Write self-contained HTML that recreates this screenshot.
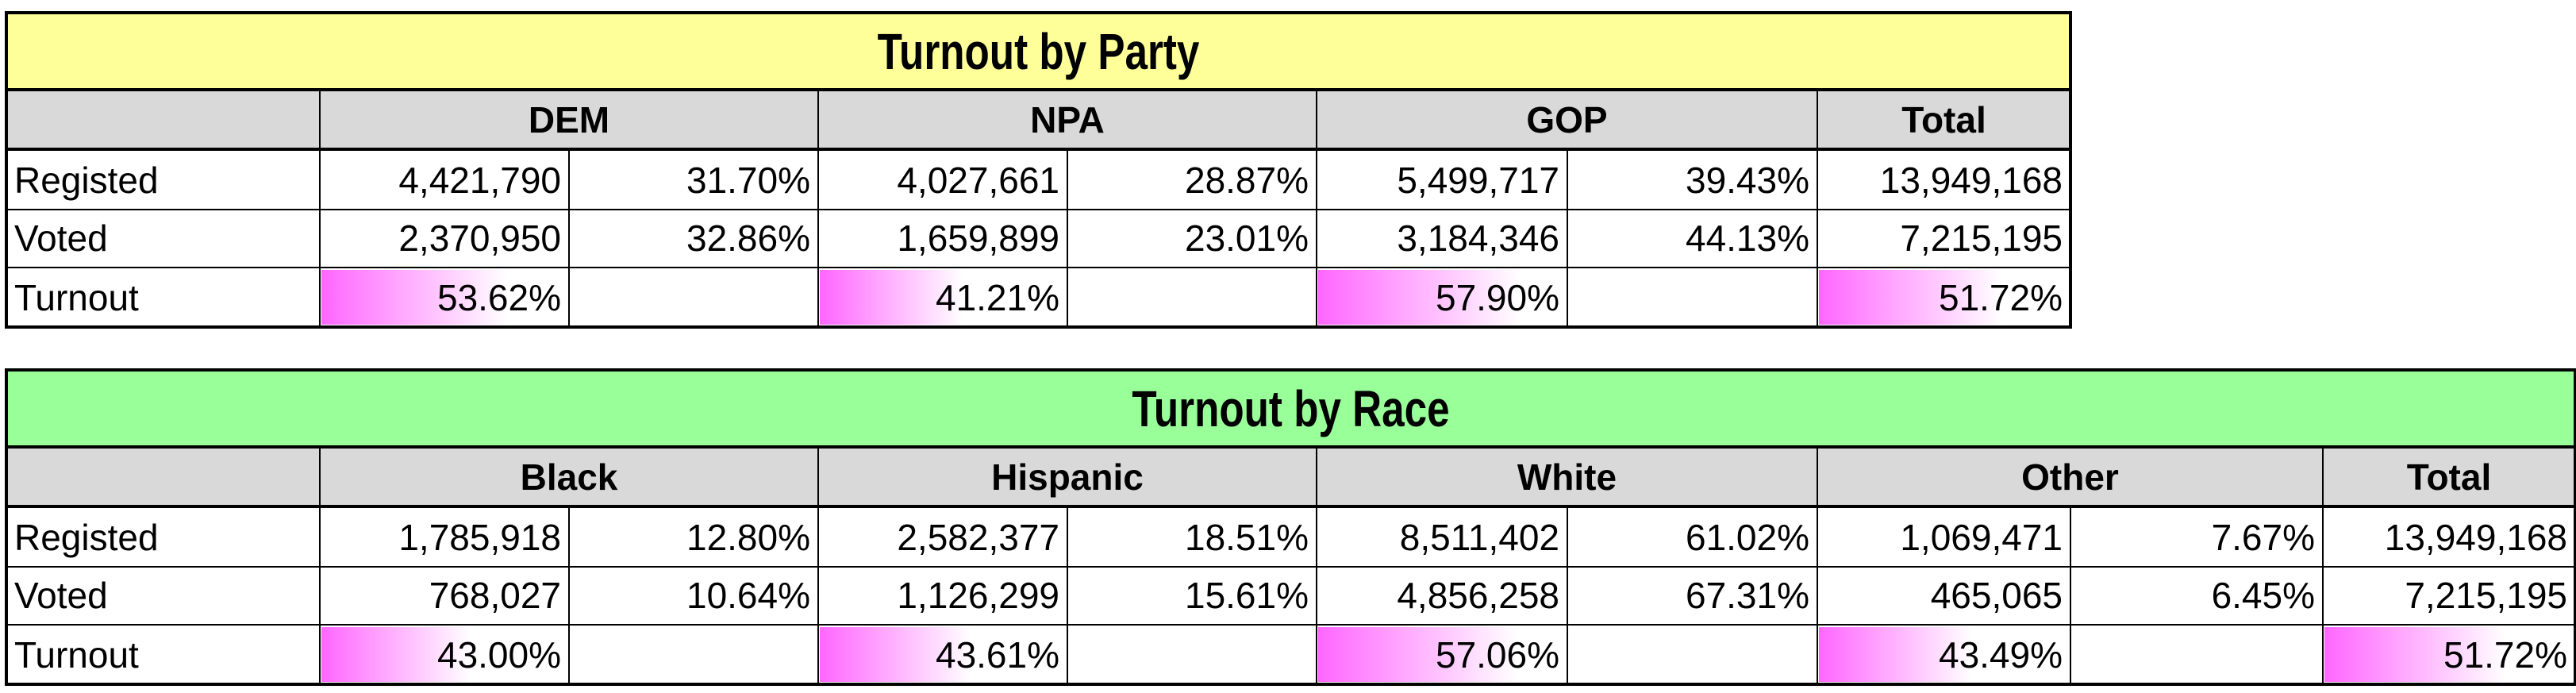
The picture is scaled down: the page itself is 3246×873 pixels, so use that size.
<!DOCTYPE html>
<html><head><meta charset="utf-8">
<style>
html,body{margin:0;padding:0;background:#fff;}
#root{position:relative;width:3246px;height:873px;overflow:hidden;font-family:"Liberation Sans",sans-serif;}
.c{position:absolute;box-sizing:border-box;white-space:nowrap;color:#000;}
.t{position:absolute;bottom:14px;font-size:46px;line-height:46px;}
.ln{position:absolute;background:#000;}
</style></head>
<body>
<div id="root"></div>
<script>
const colX=[8,403,717,1031,1345,1659,1975,2290,2609,2927,3245];
const partyGroups=["DEM","NPA","GOP"];
const partyReg=["4,421,790","4,027,661","5,499,717"];
const partyRegPct=["31.70%","28.87%","39.43%"];
const partyVot=["2,370,950","1,659,899","3,184,346"];
const partyVotPct=["32.86%","23.01%","44.13%"];
const partyTurnout=[53.62,41.21,57.90];
const partyTotals=["13,949,168","7,215,195"];
const partyTotalTurnout=51.72;
const raceGroups=["Black","Hispanic","White","Other"];
const raceReg=["1,785,918","2,582,377","8,511,402","1,069,471"];
const raceRegPct=["12.80%","18.51%","61.02%","7.67%"];
const raceVot=["768,027","1,126,299","4,856,258","465,065"];
const raceVotPct=["10.64%","15.61%","67.31%","6.45%"];
const raceTurnout=[43.00,43.61,57.06,43.49];
const raceTotals=["13,949,168","7,215,195"];
const raceTotalTurnout=51.72;
const barMax=70.9;

const root=document.getElementById('root');
function box(x,y,w,h,bg,name){
  const d=document.createElement('div');d.className='c';
  d.style.left=x+'px';d.style.top=y+'px';d.style.width=w+'px';d.style.height=h+'px';
  if(bg)d.style.background=bg;
  
  
  root.appendChild(d);return d;
}
function txt(parent,s,align,opts){
  const t=document.createElement('div');t.className='t';t.textContent=s;
  if(align==='right'){t.style.right='10px';}
  else if(align==='left'){t.style.left='10px';}
  else{t.style.left='0';t.style.right='0';t.style.textAlign='center';}
  if(opts&&opts.bold)t.style.fontWeight='bold';
  parent.appendChild(t);return t;
}
function line(x,y,w,h,name){
  const d=document.createElement('div');d.className='ln';
  d.style.left=x+'px';d.style.top=y+'px';d.style.width=w+'px';d.style.height=h+'px';
  
  
  root.appendChild(d);
}
function bar(cell,w,v){
  const b=document.createElement('div');
  const frac=Math.min(v/barMax,1);
  b.style.cssText='position:absolute;left:2px;top:3px;bottom:3px;background:linear-gradient(to right,#ff66ff,#ffffff);width:'+((w-4)*frac)+'px;';
  
  
  cell.appendChild(b);
}
function table(top,title,titleBg,groups,reg,regPct,vot,votPct,turn,totals,totTurn,prefix){
  const n=groups.length;
  const right=colX[1+2*n+1];
  const yT=top, yH=top+97, yR1=top+172, yR2=top+248, yR3=top+321, yB=top+396;
  const tc=box(colX[0],yT,right-colX[0],yH-yT,titleBg,prefix+'-title');
  const tt=txt(tc,title,'center',{bold:true});
  tt.style.fontSize='64px';tt.style.lineHeight='64px';tt.style.bottom='16px';
  tt.style.transform='scaleX(0.8)';
  box(colX[0],yH,right-colX[0],yR1-yH,'#d9d9d9',prefix+'-header-row');
  for(let i=0;i<n;i++){
    const x=colX[1+2*i];
    const h=box(x,yH,colX[3+2*i]-x,yR1-yH,null,prefix+'-header-'+groups[i].toLowerCase());
    txt(h,groups[i],'center',{bold:true});
  }
  const tx=colX[1+2*n];
  const th=box(tx,yH,right-tx,yR1-yH,null,prefix+'-header-total');
  txt(th,'Total','center',{bold:true});
  const rows=[['Registed',yR1,yR2,reg,regPct,totals[0]],['Voted',yR2,yR3,vot,votPct,totals[1]]];
  rows.forEach(r=>{
    const lab=box(colX[0],r[1],colX[1]-colX[0],r[2]-r[1],null,prefix+'-row-label-'+r[0].toLowerCase());
    txt(lab,r[0],'left');
    for(let i=0;i<n;i++){
      const a=box(colX[1+2*i],r[1],colX[2+2*i]-colX[1+2*i],r[2]-r[1],null,prefix+'-'+r[0].toLowerCase()+'-count');
      txt(a,r[3][i],'right');
      const b=box(colX[2+2*i],r[1],colX[3+2*i]-colX[2+2*i],r[2]-r[1],null,prefix+'-'+r[0].toLowerCase()+'-share');
      txt(b,r[4][i],'right');
    }
    const t=box(tx,r[1],right-tx,r[2]-r[1],null,prefix+'-'+r[0].toLowerCase()+'-total');
    txt(t,r[5],'right');
  });
  const lab=box(colX[0],yR3,colX[1]-colX[0],yB-yR3,null,prefix+'-row-label-turnout');
  txt(lab,'Turnout','left');
  for(let i=0;i<n;i++){
    const w=colX[2+2*i]-colX[1+2*i];
    const c=box(colX[1+2*i],yR3,w,yB-yR3,null,prefix+'-turnout-'+groups[i].toLowerCase());
    bar(c,w,turn[i]);
    txt(c,turn[i].toFixed(2)+'%','right');
  }
  const w=right-tx;
  const c=box(tx,yR3,w,yB-yR3,null,prefix+'-turnout-total');
  bar(c,w,totTurn);
  txt(c,totTurn.toFixed(2)+'%','right');
  // grid lines
  [yR2,yR3].forEach(y=>line(colX[0],y-1,right-colX[0],2,prefix+'-row-line'));
  line(colX[0],yH-2,right-colX[0],4,prefix+'-title-line');
  line(colX[0],yR1-2,right-colX[0],4,prefix+'-header-line');
  for(let k=1;k<=2*n+1;k++){
    const x=colX[k];
    const isMid=(k%2===0)&&k<2*n+1;
    line(x-1,isMid?yR1:yH,2,yB-(isMid?yR1:yH),prefix+'-col-line');
  }
  line(colX[0]-2,yT-2,right-colX[0]+4,4,prefix+'-border-top');
  line(colX[0]-2,yB-2,right-colX[0]+4,4,prefix+'-border-bottom');
  line(colX[0]-2,yT-2,4,yB-yT+4,prefix+'-border-left');
  line(right-2,yT-2,4,yB-yT+4,prefix+'-border-right');
}
table(16,'Turnout by Party','#ffff99',partyGroups,partyReg,partyRegPct,partyVot,partyVotPct,partyTurnout,partyTotals,partyTotalTurnout,'party');
table(466,'Turnout by Race','#99ff99',raceGroups,raceReg,raceRegPct,raceVot,raceVotPct,raceTurnout,raceTotals,raceTotalTurnout,'race');
</script>
</body></html>
